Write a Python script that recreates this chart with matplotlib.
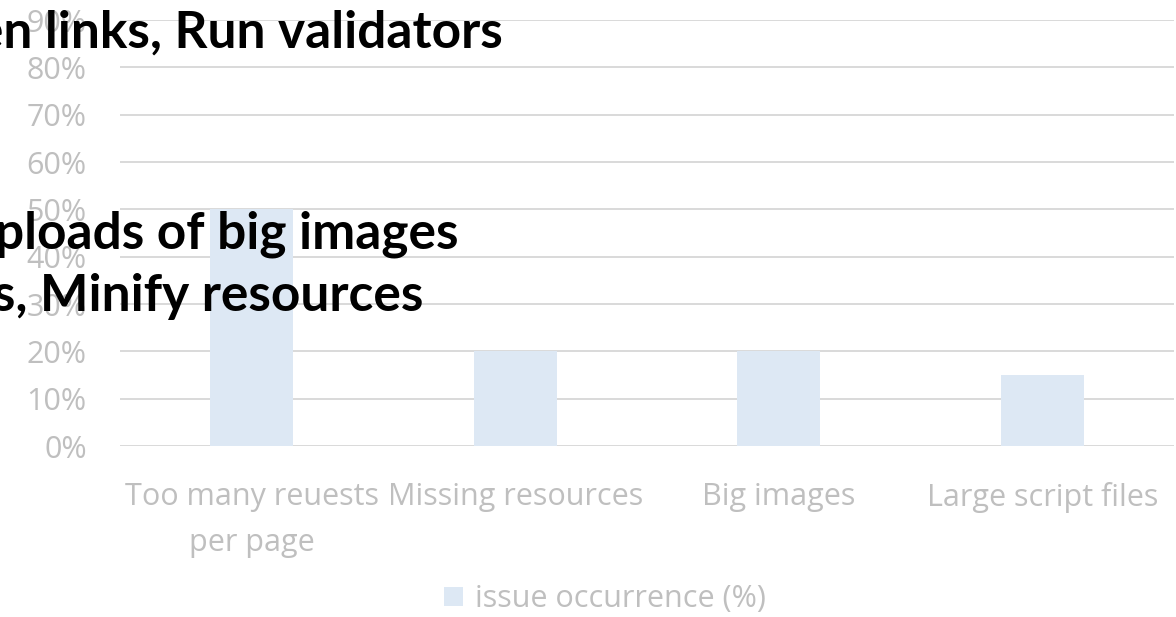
import matplotlib
matplotlib.use("Agg")
import matplotlib.pyplot as plt
from matplotlib.patches import Patch

categories = ["Too many reuests\nper page", "Missing resources", "Big images", "Large script files"]
values = [50, 20, 20, 15]
yticks = [0, 10, 20, 30, 40, 50, 60, 70, 80, 90]
ytick_labels = [f"{v}%" for v in yticks]
series_name = "issue occurrence (%)"
notes = ["Fix broken links, Run validators",
         "Avoid uploads of big images",
         "Combine scripts, Minify resources"]

W, H = 1176, 617
fig = plt.figure(figsize=(W / 100, H / 100), dpi=100)
plt.rcParams['font.family'] = ['Open Sans', 'DejaVu Sans']

ax = fig.add_axes([120 / W, 1 - 446 / H, (1174 - 120) / W, (446 - 20) / H])
bar_color = "#dde8f4"
grid_color = "#d9d9d9"
text_color = "#bfbfbf"

x = list(range(len(categories)))
ax.bar(x, values, width=0.315, color=bar_color, zorder=2)
ax.set_xlim(-0.5, len(categories) - 0.5)
ax.set_ylim(0, 90)
ax.set_yticks(yticks)
ax.set_yticklabels(ytick_labels)
ax.set_xticks(x)
ax.set_xticklabels(categories, linespacing=1.7)
for s in ax.spines.values():
    s.set_visible(False)
ax.yaxis.grid(True, color=grid_color, linewidth=1.4, zorder=0)
ax.set_axisbelow(True)
ax.tick_params(axis='both', length=0, labelsize=22, labelcolor=text_color)
ax.tick_params(axis='y', pad=24)
ax.tick_params(axis='x', pad=26)

leg = fig.legend(handles=[Patch(facecolor=bar_color, edgecolor='none', label=series_name)],
                 loc='center', bbox_to_anchor=(605 / W, 1 - 599 / H), frameon=False,
                 fontsize=22, handlelength=0.6, handleheight=0.6, handletextpad=0.4,
                 labelcolor=text_color)

note_pos = [(503, 48), (459, 249), (423, 311)]
for t, (px, py) in zip(notes, note_pos):
    fig.text(px / W, 1 - py / H, t, ha='right', va='baseline', fontsize=37,
             fontweight='bold', color='black', zorder=10,
             family=['Lato', 'DejaVu Sans'])

fig.savefig("out.png", dpi=100)
